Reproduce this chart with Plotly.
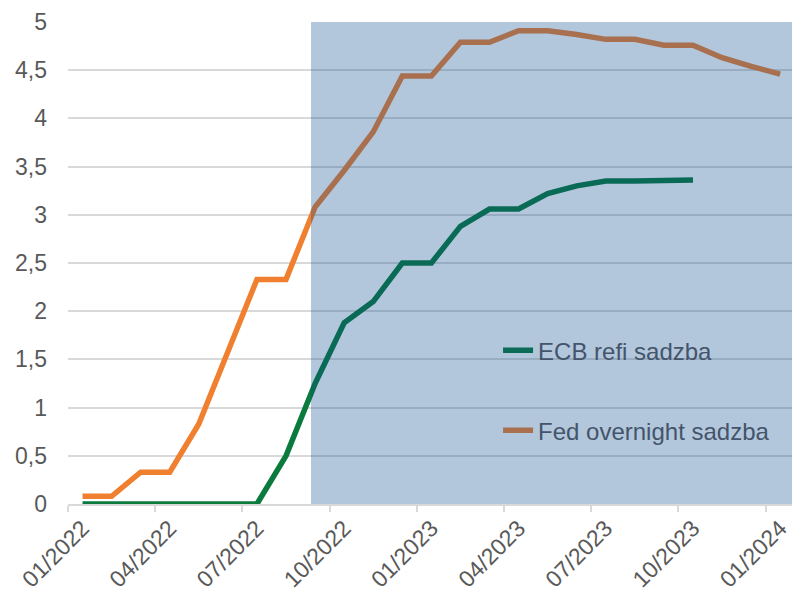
import plotly.graph_objects as go

# ---- data ----
MONTHS = ["01/2022", "02/2022", "03/2022", "04/2022", "05/2022", "06/2022",
          "07/2022", "08/2022", "09/2022", "10/2022", "11/2022", "12/2022",
          "01/2023", "02/2023", "03/2023", "04/2023", "05/2023", "06/2023",
          "07/2023", "08/2023", "09/2023", "10/2023", "11/2023", "12/2023",
          "01/2024"]
FED = [0.08, 0.08, 0.33, 0.33, 0.83, 1.58, 2.33, 2.33, 3.08, 3.46, 3.86, 4.44,
       4.44, 4.79, 4.79, 4.91, 4.91, 4.87, 4.82, 4.82, 4.76, 4.76, 4.63, 4.54, 4.46]
ECB = [0, 0, 0, 0, 0, 0, 0, 0.5, 1.25, 1.88, 2.10, 2.5, 2.5, 2.88, 3.06, 3.06,
       3.22, 3.30, 3.35, 3.35, 3.36, 3.36]
TICK_EVERY = 3
Y_TICKS = [0, 0.5, 1, 1.5, 2, 2.5, 3, 3.5, 4, 4.5, 5]
FORECAST_START = 7.86  # shaded (forecast) area start, in month-index units

x_idx = list(range(len(MONTHS)))
X_END = 24.406

FONT = "Liberation Sans, Arial, sans-serif"
ORANGE = "#f08030"
GREEN = "#0a7a3d"
SHADE = "rgba(10,77,144,0.315)"

fig = go.Figure()
fig.add_trace(go.Scatter(x=x_idx[:len(ECB)], y=ECB, mode="lines",
                         line=dict(color=GREEN, width=5.5), showlegend=False,
                         name="ECB refi sadzba"))
fig.add_trace(go.Scatter(x=x_idx, y=FED, mode="lines",
                         line=dict(color=ORANGE, width=5.5), showlegend=False,
                         name="Fed overnight sadzba"))
# legend entries (colors as seen through the shaded overlay)
fig.add_trace(go.Scatter(x=[None], y=[None], mode="lines",
                         line=dict(color="#0a6c57", width=5.5),
                         name="ECB refi sadzba", legend="legend"))
fig.add_trace(go.Scatter(x=[None], y=[None], mode="lines",
                         line=dict(color="#a8704f", width=5.5),
                         name="Fed overnight sadzba", legend="legend2"))

fig.add_shape(type="rect", xref="x", yref="y", x0=FORECAST_START, x1=X_END,
              y0=0, y1=5, fillcolor=SHADE, line=dict(width=0), layer="above")

legend_common = dict(font=dict(family=FONT, size=24, color="#44546a"),
                     bgcolor="rgba(0,0,0,0)", xanchor="left", yanchor="middle",
                     itemwidth=30)
fig.update_layout(
    width=792, height=595,
    margin=dict(l=68, r=0, t=22, b=91, autoexpand=False),
    paper_bgcolor="white", plot_bgcolor="white",
    separators=", ",
    font=dict(family=FONT, size=23, color="#595959"),
    legend=dict(x=0.594, y=0.318, **legend_common),
    legend2=dict(x=0.594, y=0.152, **legend_common),
    xaxis=dict(
        range=[-0.5, X_END],
        automargin=False,
        tickmode="array",
        tickvals=x_idx[::TICK_EVERY],
        ticktext=MONTHS[::TICK_EVERY],
        tickangle=-45,
        ticks="",
        ticklabeloverflow="allow",
        showgrid=False,
        showline=True, linecolor="#d9d9d9", linewidth=1.5,
        zeroline=False,
        tickfont=dict(family=FONT, size=23, color="#595959"),
        minor=dict(ticks="outside", tick0=-0.5, dtick=TICK_EVERY, ticklen=6,
                   tickcolor="#d9d9d9", tickwidth=1.5, showgrid=False),
    ),
    yaxis=dict(
        range=[0, 5],
        automargin=False,
        tickmode="array",
        tickvals=Y_TICKS,
        showgrid=True, gridcolor="#d9d9d9", gridwidth=1.5,
        zeroline=False, showline=False,
        ticks="",
        ticklabelstandoff=20,
        tickfont=dict(family=FONT, size=23, color="#595959"),
    ),
)

fig.write_html("out.html",
               config={"displayModeBar": False},
               post_script="document.body.style.margin='0';document.body.style.overflow='hidden';")
